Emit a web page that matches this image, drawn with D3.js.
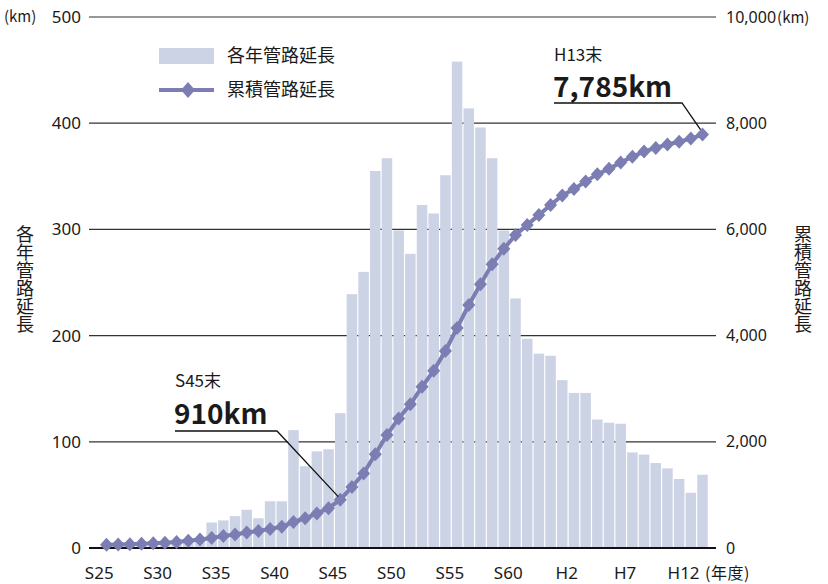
<!DOCTYPE html>
<html>
<head>
<meta charset="utf-8">
<script src="https://cdn.jsdelivr.net/npm/d3@7"></script>
<style>
    body { margin: 0; background: #fff; }
    text { font-family: "Noto Sans CJK JP", "Noto Sans", sans-serif; fill: #1a1a1a; }
    text.num { font-family: "Noto Sans", "Noto Sans CJK JP", sans-serif; }
</style>
</head>
<body>
<div id="chart"></div>
<script>
// fiscal years S25 (1950) .. H13 (2001)
const years = ["S25","S26","S27","S28","S29","S30","S31","S32","S33","S34","S35","S36","S37","S38","S39",
    "S40","S41","S42","S43","S44","S45","S46","S47","S48","S49","S50","S51","S52","S53","S54","S55","S56",
    "S57","S58","S59","S60","S61","S62","S63","H1","H2","H3","H4","H5","H6","H7","H8","H9","H10","H11","H12","H13"];

// 各年管路延長 (km)
const annualKm = [2,3,3,4,5,6,7,8,9,24,26,30,36,28,44,
    44,111,77,91,93,127,239,260,355,367,299,277,323,315,351,458,414,
    396,367,299,235,197,183,181,158,146,146,121,118,117,90,88,80,75,65,52,69];

// 累積管路延長 (km)
const cumulativeKm = [60,65,70,78,88,100,115,135,160,190,225,255,290,320,360,
    400,490,560,650,750,910,1150,1405,1765,2130,2440,2705,3035,3340,3710,4145,4575,
    4965,5345,5635,5895,6085,6270,6460,6640,6760,6900,7040,7140,7260,7370,7465,7535,7600,7650,7710,7785];

const xTickLabels = ["S25","S30","S35","S40","S45","S50","S55","S60","H2","H7","H12"];
const leftTicks = [0,100,200,300,400,500];
const rightTicks = [0,2000,4000,6000,8000,10000];

const barColor = "#ccd3e5";
const lineColor = "#7b7db3";

const width = 828, height = 584;
const svg = d3.select("#chart").append("svg")
    .attr("width", width)
    .attr("height", height);

const x = d3.scaleBand().domain(years).range([101, 708]).paddingInner(0.1).paddingOuter(0.02);
const yL = d3.scaleLinear().domain([0, 500]).range([548, 17]);
const yR = d3.scaleLinear().domain([0, 10000]).range([548, 17]);

// gridlines
svg.append("g").selectAll("line")
    .data(leftTicks.filter(d => d > 0))
    .enter().append("line")
    .attr("x1", 89).attr("x2", 716)
    .attr("y1", d => yL(d)).attr("y2", d => yL(d))
    .attr("stroke", "#333").attr("stroke-width", 1.2);

// bars
svg.append("g").selectAll("rect")
    .data(annualKm)
    .enter().append("rect")
    .attr("x", (d, i) => x(years[i]))
    .attr("width", x.bandwidth())
    .attr("y", d => yL(d))
    .attr("height", d => yL(0) - yL(d))
    .attr("fill", barColor);

// baseline
svg.append("line")
    .attr("x1", 89).attr("x2", 716)
    .attr("y1", yL(0)).attr("y2", yL(0))
    .attr("stroke", "#111").attr("stroke-width", 2);

// left ticks
svg.append("g").selectAll("text")
    .data(leftTicks)
    .enter().append("text")
    .attr("class", "num")
    .attr("x", 81).attr("y", d => yL(d))
    .attr("dy", "0.35em")
    .attr("text-anchor", "end")
    .attr("font-size", 17)
    .text(d => d);
svg.append("text").attr("x", 4).attr("y", yL(500)).attr("dy", "0.35em")
    .attr("font-size", 15).text("(km)");

// right ticks
const rt = svg.append("g").selectAll("text")
    .data(rightTicks)
    .enter().append("text")
    .attr("class", "num")
    .attr("x", 726).attr("y", d => yR(d))
    .attr("dy", "0.35em")
    .attr("font-size", 16)
    .text(d => d3.format(",")(d));
rt.filter(d => d === 10000).append("tspan")
    .attr("font-size", 15).attr("dx", 1)
    .style("font-family", "'Noto Sans CJK JP', sans-serif")
    .text("(km)");

// x labels
svg.append("g").selectAll("text")
    .data(xTickLabels)
    .enter().append("text")
    .attr("class", "num")
    .attr("x", d => x(d) - 2)
    .attr("y", 579)
    .attr("text-anchor", "middle")
    .attr("font-size", 17)
    .text(d => d);
svg.append("text").attr("x", 705).attr("y", 579).attr("font-size", 16)
    .attr("letter-spacing", 0.5).text("(年度)");

// axis titles (vertical)
svg.append("text").attr("x", 25).attr("y", 225)
    .style("writing-mode", "vertical-rl").style("text-orientation", "upright")
    .attr("font-size", 18).text("各年管路延長");
svg.append("text").attr("x", 803).attr("y", 225)
    .style("writing-mode", "vertical-rl").style("text-orientation", "upright")
    .attr("font-size", 18).text("累積管路延長");

// cumulative line
const cx = i => x(years[i]) + x.bandwidth() / 2;
const line = d3.line().x((d, i) => cx(i)).y(d => yR(d));
svg.append("path")
    .datum(cumulativeKm)
    .attr("fill", "none")
    .attr("stroke", lineColor)
    .attr("stroke-width", 4)
    .attr("d", line);

const diamond = "M0,-7L6.5,0L0,7L-6.5,0Z";
svg.append("g").selectAll("path")
    .data(cumulativeKm)
    .enter().append("path")
    .attr("d", diamond)
    .attr("transform", (d, i) => `translate(${cx(i)},${yR(d)})`)
    .attr("fill", lineColor);

// legend
svg.append("rect").attr("x", 159).attr("y", 48).attr("width", 55).attr("height", 16).attr("fill", barColor);
svg.append("text").attr("x", 227).attr("y", 56).attr("dy", "0.35em").attr("font-size", 18).text("各年管路延長");
svg.append("line").attr("x1", 159).attr("x2", 214).attr("y1", 90).attr("y2", 90)
    .attr("stroke", lineColor).attr("stroke-width", 4);
svg.append("path").attr("d", "M0,-8L7,0L0,8L-7,0Z").attr("transform", "translate(188,90)").attr("fill", lineColor);
svg.append("text").attr("x", 227).attr("y", 90).attr("dy", "0.35em").attr("font-size", 18).text("累積管路延長");

// annotations
const s45 = years.indexOf("S45"), h13 = years.indexOf("H13");
svg.append("text").attr("x", 175).attr("y", 387).attr("font-size", 17).text("S45末");
svg.append("text").attr("x", 174).attr("y", 424).attr("font-size", 28).attr("font-weight", "bold").text("910km");
svg.append("polyline")
    .attr("points", `175,431 277,431 ${cx(s45) - 2},${yR(cumulativeKm[s45]) - 3}`)
    .attr("fill", "none").attr("stroke", "#111").attr("stroke-width", 1.3);

svg.append("text").attr("x", 554).attr("y", 61).attr("font-size", 17).text("H13末");
svg.append("text").attr("x", 553).attr("y", 97).attr("font-size", 28).attr("font-weight", "bold").text("7,785km");
svg.append("polyline")
    .attr("points", `554,103 682,103 ${cx(h13) - 2},${yR(cumulativeKm[h13]) - 5}`)
    .attr("fill", "none").attr("stroke", "#111").attr("stroke-width", 1.3);
</script>
</body>
</html>
